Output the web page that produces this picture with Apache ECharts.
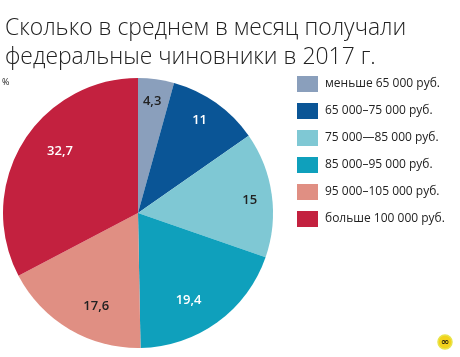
<!DOCTYPE html>
<html>
<head>
<meta charset="utf-8">
<script src="https://cdn.jsdelivr.net/npm/echarts@6/dist/echarts.min.js"></script>
<style>
  html, body { margin: 0; padding: 0; background: #fff; }
  #chart { width: 460px; height: 357px; }
</style>
</head>
<body>
<div id="chart"></div>
<script>
const categories = [
  'меньше 65 000 руб.',
  '65 000–75 000 руб.',
  '75 000—85 000 руб.',
  '85 000–95 000 руб.',
  '95 000–105 000 руб.',
  'больше 100 000 руб.'
];
const values = [4.3, 11, 15, 19.4, 17.6, 32.7];
const colors = ['#8a9fbc', '#0a5596', '#7fc8d4', '#0fa0bc', '#e08f83', '#c3213f'];
const labelColors = ['#222', '#fff', '#222', '#fff', '#222', '#fff'];
// насколько отодвинуть подпись от центра и поправка в пикселях
const labelPush = [1.59, 1.45, 1.59, 1.3, 1.34, 1.38];
const labelNudge = [[-6, -2], [-4, -6], [2, 7], [-10, 10], [14, 10], [8, -12]];

const fontName = '"Open Sans", sans-serif';
const cx = 138, cy = 213;

const chart = echarts.init(document.getElementById('chart'), null, { renderer: 'canvas' });

chart.setOption({
  animation: false,
  backgroundColor: '#fff',
  title: {
    text: 'Сколько в среднем в месяц получали\nфедеральные чиновники в 2017 г.',
    left: 0,
    top: 9,
    textStyle: {
      fontFamily: fontName,
      fontSize: 22.9,
      fontWeight: 300,
      lineHeight: 29,
      color: '#222'
    }
  },
  legend: {
    orient: 'vertical',
    left: 292,
    top: 71,
    itemWidth: 21,
    itemHeight: 16,
    itemGap: 11,
    icon: 'rect',
    data: categories,
    textStyle: {
      fontFamily: fontName,
      fontSize: 12,
      color: '#222',
      padding: [0, 0, 0, 2]
    }
  },
  series: [{
    type: 'pie',
    center: [cx, cy],
    radius: [0, 135],
    startAngle: 90,
    clockwise: true,
    silent: true,
    data: categories.map((name, i) => ({
      name,
      value: values[i],
      itemStyle: { color: colors[i] },
      label: { color: labelColors[i] }
    })),
    label: {
      position: 'inside',
      fontFamily: fontName,
      fontSize: 13,
      fontWeight: 600,
      formatter: p => String(p.value).replace('.', ',')
    },
    labelLayout: p => {
      const k = labelPush[p.dataIndex] - 1;
      const lx = p.rect.x + p.rect.width / 2;
      const ly = p.rect.y + p.rect.height / 2;
      const nudge = labelNudge[p.dataIndex];
      return { dx: (lx - cx) * k + nudge[0], dy: (ly - cy) * k + nudge[1] };
    }
  }],
  graphic: [
    {
      type: 'text',
      left: 2,
      top: 78,
      style: { text: '%', fontFamily: fontName, fontSize: 9, fill: '#222' }
    },
    {
      type: 'circle',
      shape: { cx: 445, cy: 342, r: 7 },
      style: { fill: '#f2d21c', stroke: '#e8e44a', lineWidth: 1.5 }
    },
    {
      type: 'text',
      x: 445,
      y: 342,
      style: {
        text: '∞',
        fontFamily: '"DejaVu Sans", sans-serif',
        fontSize: 10,
        fontWeight: 'bold',
        fill: '#2a2410',
        align: 'center',
        verticalAlign: 'middle'
      }
    }
  ]
});
</script>
</body>
</html>
